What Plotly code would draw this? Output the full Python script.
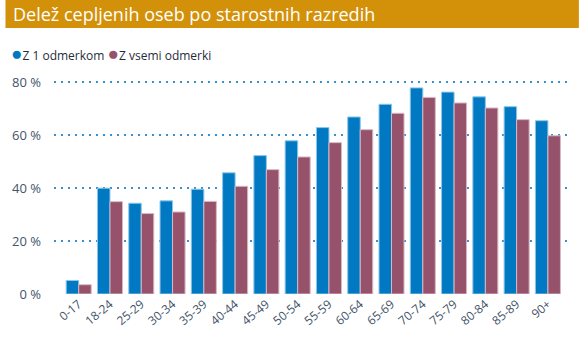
import plotly.graph_objects as go

categories = ["0-17", "18-24", "25-29", "30-34", "35-39", "40-44", "45-49", "50-54",
              "55-59", "60-64", "65-69", "70-74", "75-79", "80-84", "85-89", "90+"]
one_dose = [5.1, 40.0, 34.3, 35.2, 39.6, 45.8, 52.3, 57.9, 62.9, 66.9, 71.7, 77.9, 76.3, 74.5, 70.8, 65.5]
all_doses = [3.5, 34.9, 30.4, 31.0, 35.0, 40.7, 47.0, 51.8, 57.2, 62.1, 68.3, 74.3, 72.2, 70.3, 65.9, 59.8]
series_names = ["Z 1 odmerkom", "Z vsemi odmerki"]
y_ticks = [0, 20, 40, 60, 80]
y_tick_text = ["0 %", "20 %", "40 %", "60 %", "80 %"]
title_text = "Delež cepljenih oseb po starostnih razredih"

BLUE = "#0079C2"
PURPLE = "#96526B"
FONT = "Open Sans"
W, H = 579, 347
L, R, T, B = 49, 12, 72, 53
pw, ph = W - L - R, H - T - B

def px_x(x):
    return (x - L) / pw

def px_y(y):
    return (H - B - y) / ph

fig = go.Figure()
fig.add_trace(go.Bar(x=categories, y=one_dose, name=series_names[0], marker_color=BLUE,
                     marker_line=dict(color="#8CC6EA", width=1), showlegend=False))
fig.add_trace(go.Bar(x=categories, y=all_doses, name=series_names[1], marker_color=PURPLE,
                     marker_line=dict(color="#D9B8C4", width=1), showlegend=False))

# legend drawn as text with coloured dots
fig.add_annotation(
    text=(f"<span style='color:{BLUE};font-size:19px'>●</span>{series_names[0]} "
          f"<span style='color:{PURPLE};font-size:19px'>●</span>{series_names[1]}"),
    xref="paper", yref="paper", x=px_x(4), y=px_y(53), xanchor="left", yanchor="middle",
    showarrow=False, font=dict(family=FONT, size=12, color="#1F2D3D"))

fig.add_shape(type="rect", xref="paper", yref="paper",
              x0=px_x(0), x1=px_x(W), y0=px_y(28), y1=px_y(0),
              fillcolor="#D3910A", line_width=0, layer="below")
fig.add_annotation(text=title_text, xref="paper", yref="paper",
                   x=px_x(6), y=px_y(14), xanchor="left", yanchor="middle",
                   showarrow=False, font=dict(family=FONT, size=18, color="white"))

fig.update_layout(
    width=W, height=H,
    margin=dict(l=L, r=R, t=T, b=B),
    paper_bgcolor="white", plot_bgcolor="white",
    barmode="group", bargap=0.2, bargroupgap=0.0,
    showlegend=False,
    font=dict(family=FONT, color="#44546A", size=12),
    xaxis=dict(range=[-0.79, 15.61], tickangle=-40, showgrid=False, showline=False,
               tickfont=dict(size=12, color="#44546A"), ticks=""),
    yaxis=dict(range=[0, 83.9], tickvals=y_ticks, ticktext=y_tick_text, showgrid=True,
               gridcolor="#3A8FCF", griddash="2px,5px", gridwidth=1.5, zeroline=False,
               showline=False, tickfont=dict(size=13, color="#44546A"), ticks="",
               ticklabelstandoff=12),
)
fig.write_html("out.html")
